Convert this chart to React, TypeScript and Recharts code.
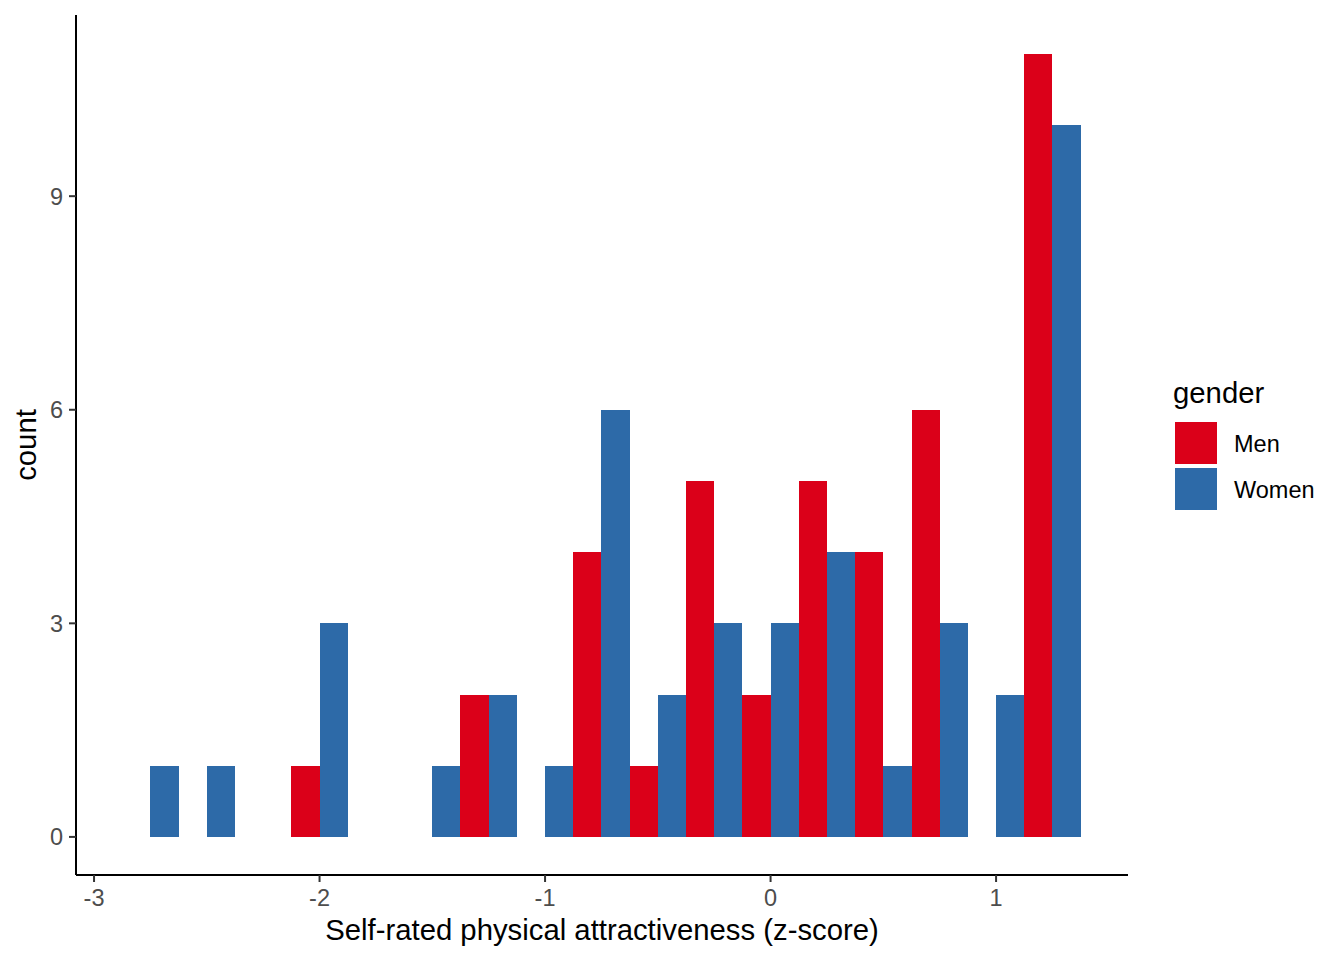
import React from "react";
import {
  ComposedChart,
  XAxis,
  YAxis,
  ReferenceArea,
  Legend,
  Label,
} from "recharts";

// histogram bins (centres), width 0.25, dodged by gender
const binCenters = [-2.75, -2.5, -2.25, -2, -1.75, -1.5, -1.25, -1, -0.75, -0.5, -0.25, 0, 0.25, 0.5, 0.75, 1, 1.25];
const menCounts = [0, 0, 0, 1, 0, 0, 2, 0, 4, 1, 5, 2, 5, 4, 6, 0, 11];
const womenCounts = [1, 1, 0, 3, 0, 1, 2, 1, 6, 2, 3, 3, 4, 1, 3, 2, 10];
const binWidth = 0.25;

const xTicks = [-3, -2, -1, 0, 1];
const yTicks = [0, 3, 6, 9];

const series = [
  { name: "Men", color: "#DB0019" },
  { name: "Women", color: "#2D6AA8" },
];

const FONT = '"Liberation Sans", Arial, Helvetica, sans-serif';

const rows = binCenters.map((c, i) => ({ x: c, men: menCounts[i], women: womenCounts[i] }));

function GenderLegend() {
  return (
    <svg width={180} height={150} style={{ display: "block", fontFamily: FONT }}>
      <text x={13} y={33} fontSize={29.3} fill="#000">gender</text>
      {series.map((s, i) => (
        <g key={s.name}>
          <rect x={15} y={52 + i * 46} width={42} height={42} fill={s.color} />
          <text x={74} y={82 + i * 46} fontSize={23.5} fill="#000">{s.name}</text>
        </g>
      ))}
    </svg>
  );
}

export default function App() {
  return (
    <div style={{ position: "absolute", left: 0, top: 0, width: 1344, height: 960, background: "#fff" }}>
      <ComposedChart
        width={1344}
        height={960}
        data={rows}
        margin={{ top: 15, right: 216, bottom: 25, left: 16 }}
        style={{ fontFamily: FONT }}
      >
        <XAxis
          dataKey="x"
          type="number"
          domain={[-3.08, 1.585]}
          allowDataOverflow
          ticks={xTicks}
          interval={0}
          height={60}
          tickSize={7}
          tickMargin={7}
          axisLine={{ stroke: "#000", strokeWidth: 2 }}
          tickLine={{ stroke: "#333", strokeWidth: 2 }}
          tick={{ fill: "#4D4D4D", fontSize: 23.5, fontFamily: FONT }}
        >
          <Label
            content={(props: any) => {
              const vb = props.viewBox || { x: 76, y: 875, width: 1052 };
              return (
                <text x={vb.x + vb.width / 2} y={vb.y + 65} textAnchor="middle" fontSize={29.3} fill="#000" fontFamily={FONT}>
                  Self-rated physical attractiveness (z-score)
                </text>
              );
            }}
          />
        </XAxis>
        <YAxis
          type="number"
          domain={[-0.535, 11.545]}
          allowDataOverflow
          ticks={yTicks}
          interval={0}
          width={60}
          tickSize={7}
          tickMargin={6}
          axisLine={{ stroke: "#000", strokeWidth: 2 }}
          tickLine={{ stroke: "#333", strokeWidth: 2 }}
          tick={{ fill: "#4D4D4D", fontSize: 23.5, fontFamily: FONT }}
        >
          <Label
            content={(props: any) => {
              const vb = props.viewBox || { x: 16, y: 15, height: 860 };
              const cx = vb.x + 19.5;
              const cy = vb.y + vb.height / 2;
              return (
                <text x={cx} y={cy} transform={`rotate(-90, ${cx}, ${cy})`} textAnchor="middle" fontSize={29.3} fill="#000" fontFamily={FONT}>
                  count
                </text>
              );
            }}
          />
        </YAxis>
        {binCenters.map((c, i) =>
          menCounts[i] > 0 ? (
            <ReferenceArea
              key={`m${i}`}
              x1={c - binWidth / 2}
              x2={c}
              y1={0}
              y2={menCounts[i]}
              fill={series[0].color}
              fillOpacity={1}
              stroke="none"
              shapeRendering="crispEdges"
              ifOverflow="visible"
            />
          ) : null
        )}
        {binCenters.map((c, i) =>
          womenCounts[i] > 0 ? (
            <ReferenceArea
              key={`w${i}`}
              x1={c}
              x2={c + binWidth / 2}
              y1={0}
              y2={womenCounts[i]}
              fill={series[1].color}
              fillOpacity={1}
              stroke="none"
              shapeRendering="crispEdges"
              ifOverflow="visible"
            />
          ) : null
        )}
        <Legend
          layout="vertical"
          align="center"
          verticalAlign="middle"
          wrapperStyle={{ left: 1160, top: 370, width: 180, height: 150 }}
          content={() => <GenderLegend />}
        />
      </ComposedChart>
    </div>
  );
}
